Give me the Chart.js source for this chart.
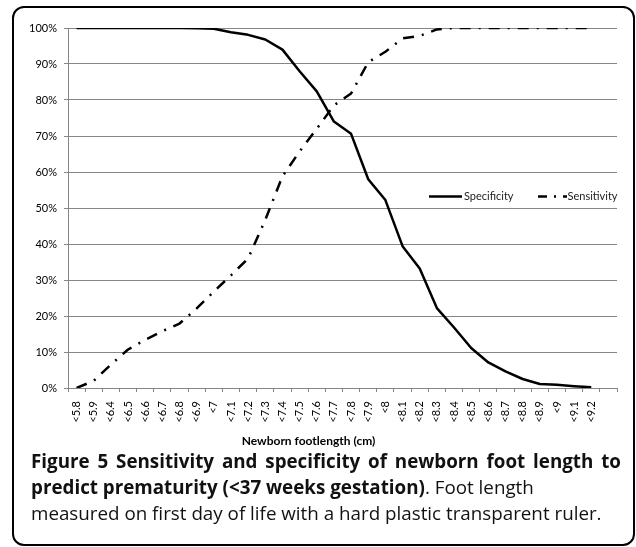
<!DOCTYPE html>
<html><head><meta charset="utf-8">
<script src="https://cdn.jsdelivr.net/npm/chart.js@4.4.0/dist/chart.umd.min.js"></script>
<style>
html,body{margin:0;padding:0;background:#fff;}
body{width:636px;height:547px;position:relative;overflow:hidden;}
#frame{position:absolute;left:12px;top:6px;width:623px;height:540px;border:2px solid #000;border-radius:12px;box-sizing:border-box;}
#wrap{position:absolute;left:0;top:0;width:636px;height:452px;}
#caption{position:absolute;left:31px;top:448px;width:590px;font-family:"Open Sans",sans-serif;font-size:18.8px;line-height:26px;color:#111;text-align:justify;}
#caption b{font-weight:bold;}
</style>
</head><body>
<div id="frame"></div>
<div id="wrap"><canvas id="c"></canvas></div>
<div id="caption"><b>Figure 5 Sensitivity and specificity of newborn foot length to predict prematurity (&lt;37 weeks gestation)</b>. Foot length<br>measured on first day of life with a hard plastic transparent ruler.</div>
<script>
const categories = ['<5.8','<5.9','<6.4','<6.5','<6.6','<6.7','<6.8','<6.9','<7','<7.1','<7.2','<7.3','<7.4','<7.5','<7.6','<7.7','<7.8','<7.9','<8','<8.1','<8.2','<8.3','<8.4','<8.5','<8.6','<8.7','<8.8','<8.9','<9','<9.1','<9.2',''];
const specificity = [100,100,100,100,100,100,100,99.9,99.8,98.8,98.1,96.8,94,88,82.4,74,70.6,58,52.2,39.4,33.2,22.2,16.8,11.1,7.1,4.6,2.5,1.1,0.9,0.5,0.2];
const sensitivity = [0,2,6.5,10.7,13.4,15.8,17.9,22.1,26.8,31.3,36,46.7,58.8,65.7,72,78.5,81.8,90.5,93.4,97.1,97.8,99.6,100,100,100,100,100,100,100,100,100];
const yTicks = [0,10,20,30,40,50,60,70,80,90,100];
const seriesNames = ['Specificity','Sensitivity'];
const xTitle = 'Newborn footlength (cm)';

const AXIS = '#868686';
const FONT = 'Lato';

const inlineLegend = {
  id: 'inlineLegend',
  afterDraw(chart) {
    const ctx = chart.ctx;
    const y = 196.5;
    const items = [
      {x0: 429, x1: 462, tx: 464, ds: chart.data.datasets[0]},
      {x0: 538, x1: 567, tx: 567.5, ds: chart.data.datasets[1]}
    ];
    ctx.save();
    items.forEach((it, i) => {
      ctx.strokeStyle = '#000';
      ctx.lineWidth = 2.5;
      ctx.lineCap = 'butt';
      ctx.setLineDash(i === 1 ? [9, 7, 2, 7] : []);
      ctx.beginPath();
      ctx.moveTo(it.x0, y);
      ctx.lineTo(it.x1, y);
      ctx.stroke();
      ctx.setLineDash([]);
      ctx.fillStyle = '#222';
      ctx.font = '11px ' + FONT;
      ctx.textBaseline = 'middle';
      ctx.textAlign = 'left';
      ctx.fillText(it.ds.label, it.tx, y);
    });
    // x-axis title (offset left of plot centre, as in the original)
    ctx.fillStyle = '#000';
    ctx.font = 'bold 12px ' + FONT;
    ctx.textAlign = 'center';
    ctx.textBaseline = 'middle';
    ctx.fillText(xTitle, 308.5, 441);
    ctx.restore();
  }
};

new Chart(document.getElementById('c'), {
  type: 'line',
  data: {
    labels: categories,
    datasets: [
      {label: seriesNames[0], data: specificity, borderColor: '#000', borderWidth: 2.5, pointRadius: 0, tension: 0, fill: false, borderJoinStyle: 'round'},
      {label: seriesNames[1], data: sensitivity, borderColor: '#000', borderWidth: 2.5, pointRadius: 0, tension: 0, fill: false, borderDash: [11, 8, 2, 8], borderJoinStyle: 'round'}
    ]
  },
  options: {
    responsive: true,
    maintainAspectRatio: false,
    animation: false,
    devicePixelRatio: 1,
    layout: {padding: {left: 20, top: 28, right: 19, bottom: 0}},
    plugins: {legend: {display: false}, tooltip: {enabled: false}},
    scales: {
      x: {
        type: 'category',
        offset: true,
        grid: {offset: true, drawOnChartArea: false, drawTicks: true, tickLength: 4, color: AXIS},
        border: {color: AXIS},
        ticks: {autoSkip: false, maxRotation: 90, minRotation: 90, padding: 9, color: '#000', font: {family: FONT, size: 11}},
        afterFit: s => { s.height = 64; }
      },
      y: {
        min: 0, max: 100,
        afterBuildTicks: s => { s.ticks = yTicks.map(v => ({value: v})); },
        grid: {color: AXIS, tickLength: 4},
        border: {color: AXIS},
        ticks: {padding: 7, color: '#000', font: {family: FONT, size: 11}, callback: v => v + '%'},
        afterFit: s => { s.width = 48; }
      }
    }
  },
  plugins: [inlineLegend]
});
</script>
</body></html>
